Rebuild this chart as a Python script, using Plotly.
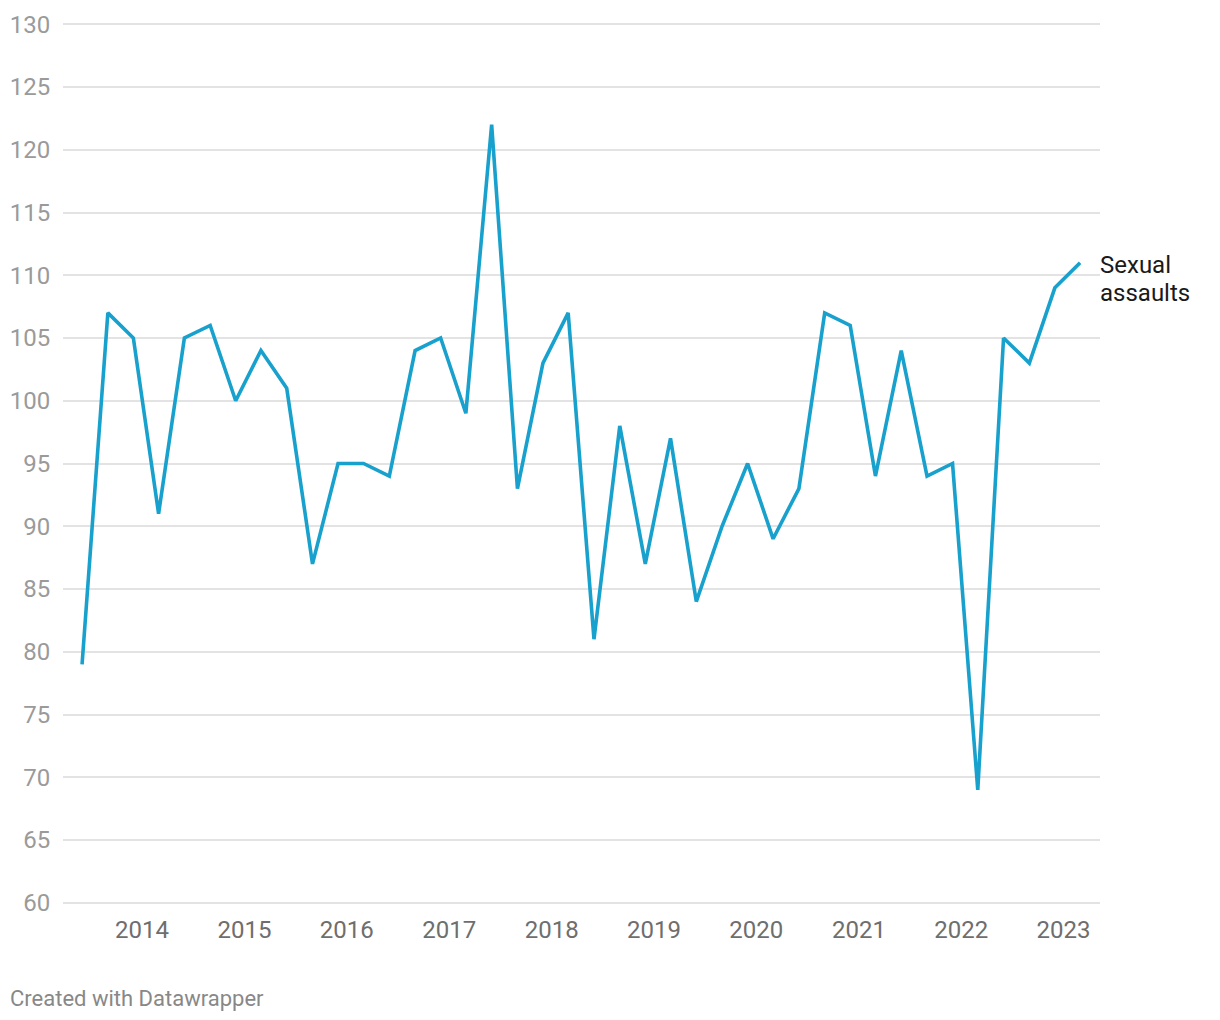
import plotly.graph_objects as go

# Quarterly dates (year ending in month), June 2013 to March 2023
dates = []
y, m = 2013, 6
for _ in range(40):
    dates.append(f"{y:04d}-{m:02d}-01")
    m += 3
    if m > 12:
        m -= 12
        y += 1

values = [79, 107, 105, 91, 105, 106, 100, 104, 101, 87,
          95, 95, 94, 104, 105, 99, 122, 93, 103, 107,
          81, 98, 87, 97, 84, 90, 95, 89, 93, 107,
          106, 94, 104, 94, 95, 69, 105, 103, 109, 111]

series_label_lines = ["Sexual", "assaults"]
year_ticks = [f"{yr}-01-01" for yr in range(2014, 2024)]
year_labels = [str(yr) for yr in range(2014, 2024)]
y_ticks = list(range(60, 131, 5))

fig = go.Figure()
fig.add_trace(go.Scatter(
    x=dates, y=values, mode="lines",
    line=dict(color="#18a1cd", width=3.6),
    hoverinfo="skip", showlegend=False,
))

for i, line_text in enumerate(series_label_lines):
    fig.add_annotation(
        x=dates[-1], y=values[-1], xref="x", yref="y",
        text=line_text, showarrow=False,
        xanchor="left", yanchor="middle", xshift=18, yshift=-2 - 28 * i,
        align="left",
        font=dict(family="Roboto", size=24, color="#1a1a1a"),
    )

fig.add_annotation(
    x=-0.0530, y=-0.1068, xref="paper", yref="paper",
    text="Created with Datawrapper", showarrow=False,
    xanchor="left", yanchor="middle",
    font=dict(family="Roboto", size=22, color="#888888"),
)

fig.update_layout(
    width=1204, height=1004,
    margin=dict(l=55, r=112, t=15, b=108),
    paper_bgcolor="white", plot_bgcolor="white",
    font=dict(family="Roboto"),
    xaxis=dict(
        type="date",
        range=["2013-03-25", "2023-05-11"],
        tickvals=year_ticks, ticktext=year_labels,
        showgrid=False, zeroline=False, showline=False,
        ticks="outside", ticklen=4, tickcolor="rgba(0,0,0,0)",
        tickfont=dict(family="Roboto", size=24, color="#6e6e6e"),
        automargin=False,
    ),
    yaxis=dict(
        range=[59.9, 130.1],
        tickvals=y_ticks,
        showgrid=True, gridcolor="#e3e3e3", gridwidth=1.5,
        zeroline=False, showline=False,
        ticks="outside", ticklen=7, tickcolor="rgba(0,0,0,0)",
        tickfont=dict(family="Roboto", size=24, color="#9a9a9a"),
        automargin=False,
    ),
)

fig.write_html("out.html")
